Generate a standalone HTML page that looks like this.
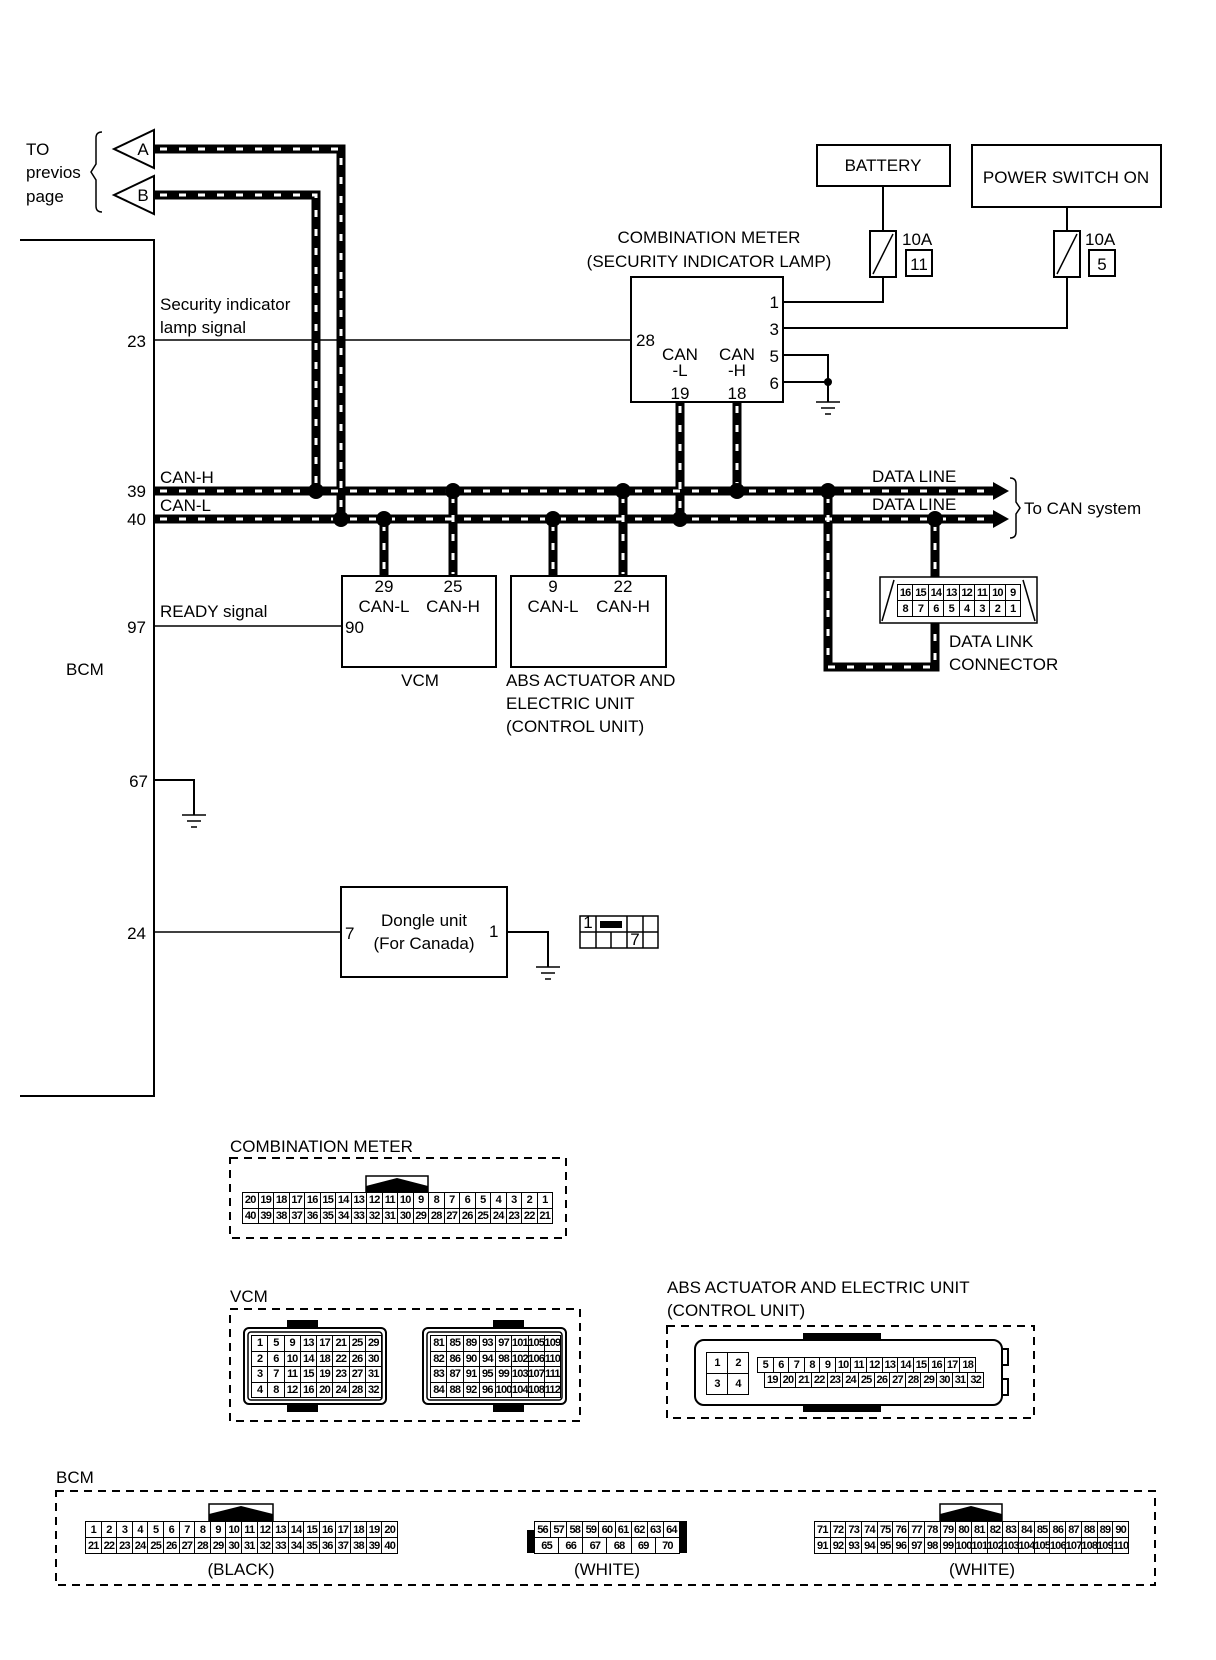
<!DOCTYPE html>
<html><head><meta charset="utf-8">
<style>
body{margin:0;background:#fff;}
#c{position:relative;width:1216px;height:1660px;overflow:hidden;background:#fff;font-family:"Liberation Sans",sans-serif;}
svg{position:absolute;left:0;top:0;}
svg text{font-family:"Liberation Sans",sans-serif;font-size:17px;fill:#000;}
.g{position:absolute;display:grid;grid-auto-rows:1fr;border-top:1.5px solid #000;border-left:1.5px solid #000;box-sizing:border-box;font:bold 11px "Liberation Sans Narrow","Liberation Sans",sans-serif;background:#fff;}
.g span{border-right:1.5px solid #000;border-bottom:1.5px solid #000;display:flex;align-items:center;justify-content:center;letter-spacing:-0.8px;overflow:hidden;white-space:nowrap;}
</style></head><body><div id="c">
<svg width="1216" height="1660" viewBox="0 0 1216 1660">
<defs>
<g id="gnd"><line x1="-12" y1="0" x2="12" y2="0" stroke="#000" stroke-width="1.5"/><line x1="-7" y1="6" x2="7" y2="6" stroke="#000" stroke-width="1.5"/><line x1="-3" y1="12" x2="3" y2="12" stroke="#000" stroke-width="1.5"/></g>
</defs>
<g fill="none" stroke="#000" stroke-width="1.5">
<path d="M102,132 Q96,132 96,138 V164 L91,172 L96,180 V206 Q96,212 102,212"/>
<polygon points="114,149 154,130 154,168" stroke-width="2"/>
<polygon points="114,195 154,176 154,214" stroke-width="2"/>
<path d="M20,240 H154 V1096 H20" stroke-width="2"/>
<path d="M154,340 H631"/>
<path d="M154,626 H342"/>
<path d="M154,780 H194 V815" stroke-width="2"/>
<path d="M154,932 H341"/>
<path d="M507,932 H548 V967" stroke-width="2"/>
<rect x="631" y="277" width="152" height="125" stroke-width="2"/>
<path d="M783,302 H883 V277 M883,231 V186" stroke-width="2"/>
<path d="M783,328 H1067 V277 M1067,231 V207" stroke-width="2"/>
<path d="M783,355 H828 V402 M783,382 H828" stroke-width="2"/>
<rect x="870" y="231" width="26" height="46" stroke-width="2"/>
<line x1="873" y1="274" x2="893" y2="234"/>
<rect x="1054" y="231" width="26" height="46" stroke-width="2"/>
<line x1="1057" y1="274" x2="1077" y2="234"/>
<rect x="906" y="250" width="26" height="26" stroke-width="2"/>
<rect x="1089" y="250" width="26" height="26" stroke-width="2"/>
<rect x="817" y="145" width="133" height="41" stroke-width="2"/>
<rect x="972" y="145" width="189" height="62" stroke-width="2"/>
<rect x="342" y="576" width="154" height="91" stroke-width="2"/>
<rect x="511" y="576" width="155" height="91" stroke-width="2"/>
<rect x="341" y="887" width="166" height="90" stroke-width="2"/>
<path d="M1010,478 Q1016,478 1016,484 V502 L1020,508 L1016,514 V532 Q1016,538 1010,538"/>
<rect x="880" y="577" width="157" height="46" stroke-width="1.5"/>
<line x1="882" y1="621" x2="894" y2="580"/>
<line x1="1035" y1="621" x2="1023" y2="580"/>
<line x1="897" y1="600" x2="1020" y2="600" stroke-width="2"/>
<rect x="230" y="1158" width="336" height="80" stroke-dasharray="8 6" stroke-width="2"/>
<rect x="230" y="1309" width="350" height="112" stroke-dasharray="8 6" stroke-width="2"/>
<rect x="667" y="1326" width="367" height="92" stroke-dasharray="8 6" stroke-width="2"/>
<rect x="56" y="1491" width="1099" height="94" stroke-dasharray="8 6" stroke-width="2"/>
<rect x="244" y="1328" width="142" height="76" rx="5" stroke-width="2"/>
<rect x="248" y="1332" width="134" height="68" rx="3"/>
<rect x="423" y="1328" width="143" height="76" rx="5" stroke-width="2"/>
<rect x="427" y="1332" width="135" height="68" rx="3"/>
<rect x="695" y="1340" width="307" height="65" rx="9" stroke-width="2"/>
<rect x="1002" y="1349" width="6" height="16" stroke-width="2"/>
<rect x="1002" y="1379" width="6" height="16" stroke-width="2"/>
<rect x="366" y="1176" width="62" height="16"/>
<rect x="209" y="1504" width="64" height="17"/>
<rect x="940" y="1504" width="62" height="17"/>
<rect x="580" y="916" width="78" height="32"/>
<path d="M580,932 H596 M627,932 H658 M596,916 V948 M611,932 V948 M627,916 V948 M643,916 V948"/>
<path d="M596,932 H627"/>
</g>
<g fill="#000">
<rect x="600" y="921" width="22" height="7"/>
<polygon points="366,1192 366,1186 397,1178 428,1186 428,1192"/>
<polygon points="209,1521 209,1514 241,1506 273,1514 273,1521"/>
<polygon points="940,1521 940,1514 971,1506 1002,1514 1002,1521"/>
<rect x="287" y="1320" width="31" height="8"/><rect x="287" y="1404" width="31" height="8"/>
<rect x="493" y="1320" width="31" height="8"/><rect x="493" y="1404" width="31" height="8"/>
<rect x="803" y="1333" width="78" height="7"/><rect x="803" y="1405" width="78" height="7"/>
<rect x="527" y="1530" width="8" height="23"/><rect x="679" y="1521" width="8" height="32"/>
<polygon points="993,482 1009,491 993,500"/>
<polygon points="993,510 1009,519 993,528"/>
</g>
<g fill="none" stroke="#000" stroke-width="9" stroke-linejoin="miter">
<path d="M154,149 H341 V519"/><path d="M154,195 H316 V491"/>
<path d="M154,491 H995"/><path d="M154,519 H995"/>
<path d="M680,402 V519"/><path d="M737,402 V491"/>
<path d="M384,519 V576"/><path d="M453,491 V576"/>
<path d="M553,519 V576"/><path d="M623,491 V576"/>
<path d="M828,491 V667 H935 V623"/><path d="M935,519 V577"/>
</g>
<g fill="none" stroke="#fff" stroke-width="3" stroke-dasharray="7 12">
<path d="M160,149 H341 V519"/><path d="M160,195 H316 V491"/>
<path d="M160,491 H988"/><path d="M160,519 H988"/>
<path d="M680,406 V519"/><path d="M737,406 V491"/>
<path d="M384,524 V574"/><path d="M453,496 V574"/>
<path d="M553,524 V574"/><path d="M623,496 V574"/>
<path d="M828,496 V667 H935 V626"/><path d="M935,524 V574"/>
</g>
<g fill="#000">
<circle cx="316" cy="491" r="8"/><circle cx="453" cy="491" r="8"/><circle cx="623" cy="491" r="8"/><circle cx="737" cy="491" r="8"/><circle cx="828" cy="491" r="8"/>
<circle cx="341" cy="519" r="8"/><circle cx="384" cy="519" r="8"/><circle cx="553" cy="519" r="8"/><circle cx="680" cy="519" r="8"/><circle cx="935" cy="519" r="8"/>
<circle cx="828" cy="382" r="4"/>
</g>
<use href="#gnd" x="828" y="402"/>
<use href="#gnd" x="194" y="815"/>
<use href="#gnd" x="548" y="967"/>
<text x="26" y="155">TO</text><text x="26" y="178">previos</text><text x="26" y="202">page</text>
<text x="143" y="155" text-anchor="middle" font-size="15">A</text>
<text x="143" y="201" text-anchor="middle" font-size="15">B</text>
<text x="160" y="310">Security indicator</text><text x="160" y="333">lamp signal</text>
<text x="146" y="347" text-anchor="end">23</text>
<text x="146" y="497" text-anchor="end">39</text><text x="146" y="525" text-anchor="end">40</text>
<text x="160" y="483">CAN-H</text><text x="160" y="511">CAN-L</text>
<text x="160" y="617">READY signal</text><text x="146" y="633" text-anchor="end">97</text>
<text x="66" y="675">BCM</text>
<text x="148" y="787" text-anchor="end">67</text>
<text x="146" y="939" text-anchor="end">24</text>
<text x="709" y="243" text-anchor="middle">COMBINATION METER</text>
<text x="709" y="267" text-anchor="middle">(SECURITY INDICATOR LAMP)</text>
<text x="883" y="171" text-anchor="middle">BATTERY</text>
<text x="1066" y="183" text-anchor="middle">POWER SWITCH ON</text>
<text x="902" y="245">10A</text><text x="919" y="270" text-anchor="middle">11</text>
<text x="1085" y="245">10A</text><text x="1102" y="270" text-anchor="middle">5</text>
<text x="779" y="308" text-anchor="end">1</text><text x="779" y="335" text-anchor="end">3</text>
<text x="779" y="362" text-anchor="end">5</text><text x="779" y="389" text-anchor="end">6</text>
<text x="636" y="346" font-size="16">28</text>
<text x="680" y="360" text-anchor="middle">CAN</text><text x="680" y="376" text-anchor="middle" font-size="15">-L</text><text x="680" y="399" text-anchor="middle">19</text>
<text x="737" y="360" text-anchor="middle">CAN</text><text x="737" y="376" text-anchor="middle" font-size="15">-H</text><text x="737" y="399" text-anchor="middle">18</text>
<text x="872" y="482">DATA LINE</text><text x="872" y="510">DATA LINE</text>
<text x="1024" y="514">To CAN system</text>
<text x="949" y="647">DATA LINK</text><text x="949" y="670">CONNECTOR</text>
<text x="384" y="592" text-anchor="middle">29</text><text x="384" y="612" text-anchor="middle">CAN-L</text>
<text x="453" y="592" text-anchor="middle">25</text><text x="453" y="612" text-anchor="middle">CAN-H</text>
<text x="553" y="592" text-anchor="middle">9</text><text x="553" y="612" text-anchor="middle">CAN-L</text>
<text x="623" y="592" text-anchor="middle">22</text><text x="623" y="612" text-anchor="middle">CAN-H</text>
<text x="345" y="633">90</text>
<text x="420" y="686" text-anchor="middle">VCM</text>
<text x="506" y="686">ABS ACTUATOR AND</text><text x="506" y="709">ELECTRIC UNIT</text><text x="506" y="732">(CONTROL UNIT)</text>
<text x="424" y="926" text-anchor="middle">Dongle unit</text><text x="424" y="949" text-anchor="middle">(For Canada)</text>
<text x="345" y="939">7</text><text x="489" y="937">1</text>
<text x="588" y="928" text-anchor="middle" font-size="10">1</text><text x="635" y="945" text-anchor="middle" font-size="10">7</text>
<text x="230" y="1152">COMBINATION METER</text>
<text x="230" y="1302">VCM</text>
<text x="667" y="1293">ABS ACTUATOR AND ELECTRIC UNIT</text><text x="667" y="1316">(CONTROL UNIT)</text>
<text x="56" y="1483">BCM</text>
<text x="241" y="1575" text-anchor="middle">(BLACK)</text>
<text x="607" y="1575" text-anchor="middle">(WHITE)</text>
<text x="982" y="1575" text-anchor="middle">(WHITE)</text>
</svg>

<div class="g" style="left:897px;top:584px;width:124px;height:33px;grid-template-columns:repeat(8,1fr)"><span>16</span><span>15</span><span>14</span><span>13</span><span>12</span><span>11</span><span>10</span><span>9</span><span>8</span><span>7</span><span>6</span><span>5</span><span>4</span><span>3</span><span>2</span><span>1</span></div>

<div class="g" style="left:242px;top:1192px;width:311px;height:32px;grid-template-columns:repeat(20,1fr)"><span>20</span><span>19</span><span>18</span><span>17</span><span>16</span><span>15</span><span>14</span><span>13</span><span>12</span><span>11</span><span>10</span><span>9</span><span>8</span><span>7</span><span>6</span><span>5</span><span>4</span><span>3</span><span>2</span><span>1</span><span>40</span><span>39</span><span>38</span><span>37</span><span>36</span><span>35</span><span>34</span><span>33</span><span>32</span><span>31</span><span>30</span><span>29</span><span>28</span><span>27</span><span>26</span><span>25</span><span>24</span><span>23</span><span>22</span><span>21</span></div>

<div class="g" style="left:251px;top:1335px;width:131px;height:63px;grid-template-columns:repeat(8,1fr)"><span>1</span><span>5</span><span>9</span><span>13</span><span>17</span><span>21</span><span>25</span><span>29</span><span>2</span><span>6</span><span>10</span><span>14</span><span>18</span><span>22</span><span>26</span><span>30</span><span>3</span><span>7</span><span>11</span><span>15</span><span>19</span><span>23</span><span>27</span><span>31</span><span>4</span><span>8</span><span>12</span><span>16</span><span>20</span><span>24</span><span>28</span><span>32</span></div>

<div class="g" style="left:430px;top:1335px;width:131px;height:63px;grid-template-columns:repeat(8,1fr)"><span>81</span><span>85</span><span>89</span><span>93</span><span>97</span><span>101</span><span>105</span><span>109</span><span>82</span><span>86</span><span>90</span><span>94</span><span>98</span><span>102</span><span>106</span><span>110</span><span>83</span><span>87</span><span>91</span><span>95</span><span>99</span><span>103</span><span>107</span><span>111</span><span>84</span><span>88</span><span>92</span><span>96</span><span>100</span><span>104</span><span>108</span><span>112</span></div>

<div class="g" style="left:706px;top:1352px;width:43px;height:43px;grid-template-columns:repeat(2,1fr)"><span>1</span><span>2</span><span>3</span><span>4</span></div>
<div class="g" style="left:757px;top:1357px;width:219px;height:16px;grid-template-columns:repeat(14,1fr)"><span>5</span><span>6</span><span>7</span><span>8</span><span>9</span><span>10</span><span>11</span><span>12</span><span>13</span><span>14</span><span>15</span><span>16</span><span>17</span><span>18</span></div>
<div class="g" style="left:764px;top:1372px;width:220px;height:16px;grid-template-columns:repeat(14,1fr)"><span>19</span><span>20</span><span>21</span><span>22</span><span>23</span><span>24</span><span>25</span><span>26</span><span>27</span><span>28</span><span>29</span><span>30</span><span>31</span><span>32</span></div>

<div class="g" style="left:85px;top:1521px;width:313px;height:33px;grid-template-columns:repeat(20,1fr)"><span>1</span><span>2</span><span>3</span><span>4</span><span>5</span><span>6</span><span>7</span><span>8</span><span>9</span><span>10</span><span>11</span><span>12</span><span>13</span><span>14</span><span>15</span><span>16</span><span>17</span><span>18</span><span>19</span><span>20</span><span>21</span><span>22</span><span>23</span><span>24</span><span>25</span><span>26</span><span>27</span><span>28</span><span>29</span><span>30</span><span>31</span><span>32</span><span>33</span><span>34</span><span>35</span><span>36</span><span>37</span><span>38</span><span>39</span><span>40</span></div>

<div class="g" style="left:534px;top:1521px;width:146px;height:17px;grid-template-columns:repeat(9,1fr)"><span>56</span><span>57</span><span>58</span><span>59</span><span>60</span><span>61</span><span>62</span><span>63</span><span>64</span></div>
<div class="g" style="left:534px;top:1537px;width:146px;height:17px;grid-template-columns:repeat(6,1fr)"><span>65</span><span>66</span><span>67</span><span>68</span><span>69</span><span>70</span></div>

<div class="g" style="left:814px;top:1521px;width:315px;height:33px;grid-template-columns:repeat(20,1fr)"><span>71</span><span>72</span><span>73</span><span>74</span><span>75</span><span>76</span><span>77</span><span>78</span><span>79</span><span>80</span><span>81</span><span>82</span><span>83</span><span>84</span><span>85</span><span>86</span><span>87</span><span>88</span><span>89</span><span>90</span><span>91</span><span>92</span><span>93</span><span>94</span><span>95</span><span>96</span><span>97</span><span>98</span><span>99</span><span>100</span><span>101</span><span>102</span><span>103</span><span>104</span><span>105</span><span>106</span><span>107</span><span>108</span><span>109</span><span>110</span></div>
</div></body></html>
